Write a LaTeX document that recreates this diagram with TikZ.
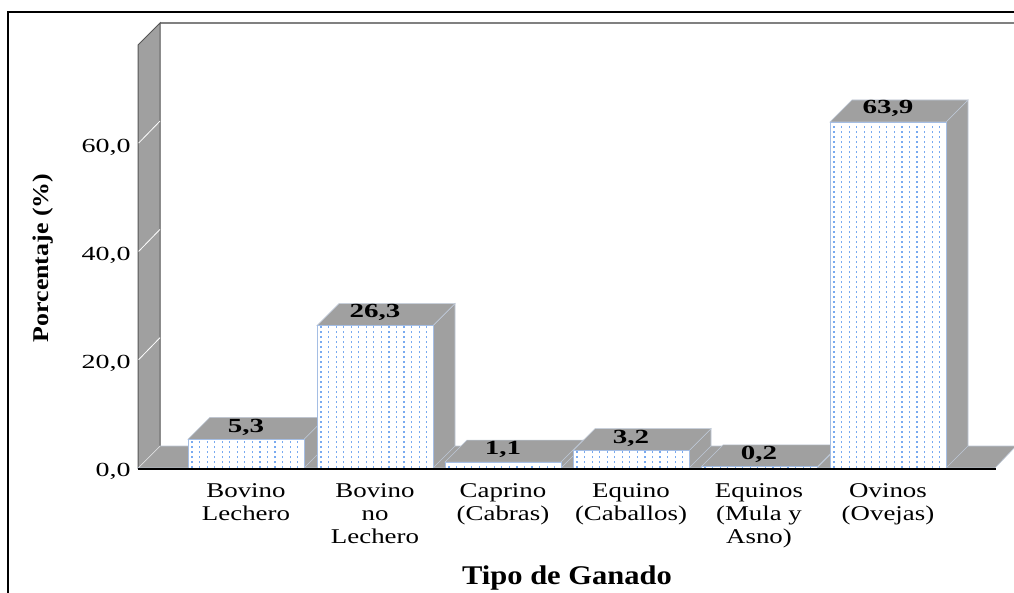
\documentclass[tikz,border=0pt]{standalone}
\usepackage{fontspec}
\setmainfont{Liberation Serif}
\usepackage{graphicx}
\definecolor{facegray}{RGB}{160,160,160}
\definecolor{walledge}{RGB}{85,85,85}
\definecolor{dotblue}{RGB}{120,170,240}
\definecolor{frontedge}{RGB}{165,190,228}
\definecolor{walltop}{RGB}{128,128,128}
\definecolor{faceedge}{RGB}{190,200,215}
\newcommand{\gbar}[2]{%
  \pgfmathsetmacro{\bL}{#1}%
  \pgfmathsetmacro{\bR}{#1+116}%
  \pgfmathsetmacro{\bT}{468-#2*5.415}%
  \filldraw[fill=facegray, draw=faceedge, line width=0.6]
    (\bR,\bT) -- (\bR+22,\bT-22) -- (\bR+22,446) -- (\bR,468) -- cycle;
  \filldraw[fill=facegray, draw=faceedge, line width=0.6]
    (\bL,\bT) -- (\bL+22,\bT-22) -- (\bR+22,\bT-22) -- (\bR,\bT) -- cycle;
  \fill[white] (\bL,\bT) rectangle (\bR,468);
  \begin{scope}
    \clip (\bL,\bT+1) rectangle (\bR,468);
    \foreach \i in {0,...,14} {
      \pgfmathsetmacro{\xx}{\bL+4+7.55*\i}
      \draw[dotblue, line width=1.2, dash pattern=on 1.8pt off 3.2pt] (\xx,468) -- (\xx,\bT-6);
    }
  \end{scope}
  \draw[frontedge, line width=0.9] (\bL,468) -- (\bL,\bT) -- (\bR,\bT) -- (\bR,468);
}
\tikzset{
  ticklab/.style={anchor=east, inner sep=0, font=\fontsize{20}{22}\selectfont, xscale=1.4},
  catlab/.style={anchor=north, inner sep=0, align=center, font=\fontsize{21}{23}\selectfont, xscale=1.28},
  vallab/.style={inner sep=0, font=\fontsize{20}{22}\selectfont\bfseries, xscale=1.45},
}
\begin{document}
\begin{tikzpicture}[x=1pt, y=-1pt]
\useasboundingbox (0,0) rectangle (1014,592);
\fill[white] (0,0) rectangle (1014,592);
% outer frame
\draw[line width=2] (8,600) -- (8,12) -- (1020,12);
% back wall top line
\draw[walltop, line width=2] (160,23) -- (1016,23);
% left wall
\filldraw[fill=facegray, draw=walledge, line width=1] (138,468) -- (138,45) -- (160,23) -- (160,446) -- cycle;
\foreach \v in {20,40,60} {
  \pgfmathsetmacro{\yy}{468-\v*5.415}
  \draw[white, line width=0.8] (138.6,\yy) -- (160,\yy-22);
}
% floor
\filldraw[fill=facegray, draw=faceedge, line width=0.6] (138,468) -- (160,446) -- (1016,446) -- (995,468) -- cycle;
\draw[white!85!black, line width=0.8] (139,467) -- (160,446);
% bars
\gbar{188}{5.3}
\gbar{317}{26.3}
\gbar{445}{1.1}
\gbar{573}{3.2}
\gbar{701}{0.2}
\gbar{830}{63.9}
% floor front edge
\draw[black, line width=1.6] (138,469) -- (996,469);
% value labels
\node[vallab] (v1) at (246,427) {5,3};
\node[vallab] (v2) at (375,312) {26,3};
\node[vallab] (v3) at (503,449) {1,1};
\node[vallab] (v4) at (631,438) {3,2};
\node[vallab] (v5) at (759,454) {0,2};
\node[vallab] (v6) at (888,108) {63,9};
% tick labels
\node[ticklab] (t0) at (131,471) {0,0};
\node[ticklab] (t20) at (131,363.7) {20,0};
\node[ticklab] (t40) at (131,255.4) {40,0};
\node[ticklab] (t60) at (131,147.1) {60,0};
% category labels
\node[catlab] (c1) at (246,483) {Bovino\\Lechero};
\node[catlab] (c2) at (375,483) {Bovino\\no\\Lechero};
\node[catlab] (c3) at (503,483) {Caprino\\(Cabras)};
\node[catlab] (c4) at (631,483) {Equino\\(Caballos)};
\node[catlab] (c5) at (759,483) {Equinos\\(Mula y\\Asno)};
\node[catlab] (c6) at (888,483) {Ovinos\\(Ovejas)};
% axis titles
\node[inner sep=0, rotate=90, font=\fontsize{22.5}{24}\selectfont\bfseries] (ytitle) at (43,258) {\scalebox{1.15}[1]{Porcentaje (\%)}};
\node[anchor=base, inner sep=0, font=\fontsize{27}{29}\selectfont\bfseries, xscale=1.13] (xtitle) at (567,584) {Tipo de Ganado};
\end{tikzpicture}
\end{document}
